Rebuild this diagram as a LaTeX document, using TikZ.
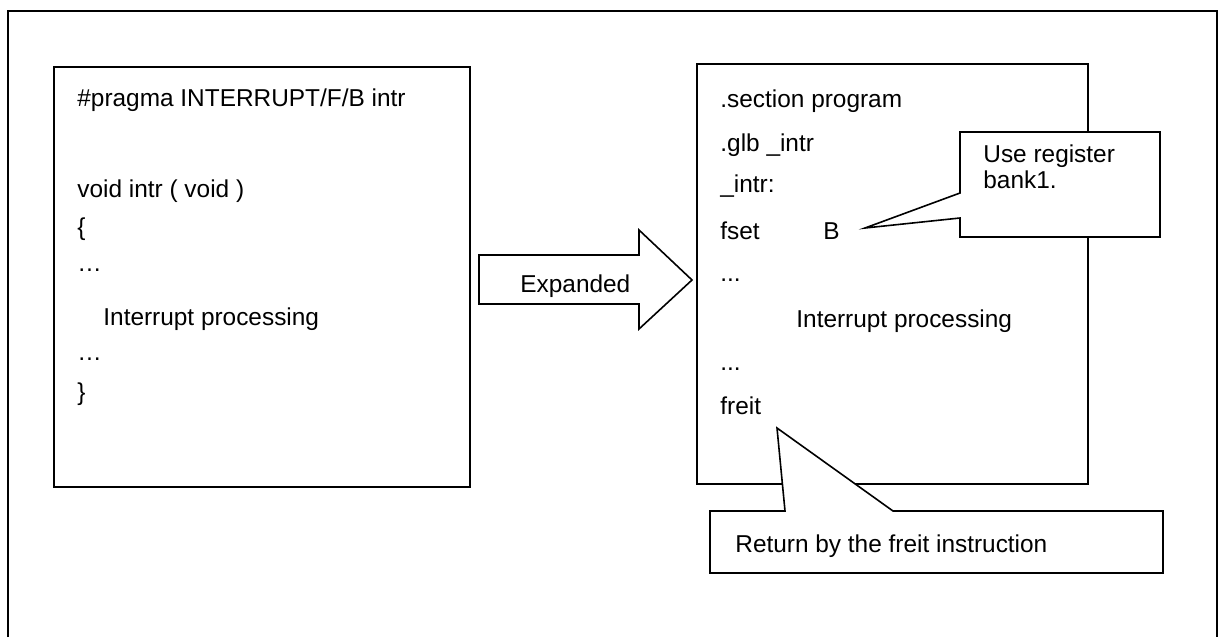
\documentclass[tikz,border=0pt]{standalone}
\usepackage{fontspec}
\setmainfont{Liberation Sans}
\usetikzlibrary{positioning}

\begin{document}
\begin{tikzpicture}[x=0.5pt, y=-0.5pt,
framebox/.style={draw=black, line width=1pt},
codebox/.style={draw=black, line width=1.4pt},
noteshape/.style={draw=black, fill=white, line width=0.8pt, line join=miter},
codeline/.style={anchor=base west, inner sep=0pt, font=\fontsize{12.2}{14.6}\selectfont},
]
\useasboundingbox (0,0) rectangle (1219,637);

%Frames
\draw[framebox] (8,637) -- (8,11) -- (1217,11) -- (1217,637);
\draw[codebox] (54,67) rectangle (470,487);
\draw[codebox] (697,64) rectangle (1088,484);

%Arrow
\draw[noteshape] (479,255) -- (639,255) -- (639,230) -- (692,280) -- (639,329) -- (639,304) -- (479,304) -- cycle;
\node[codeline] (expanded) at (520,292) {Expanded};

%C source
\node[codeline] (pragma)   at (77,106)  {\#pragma INTERRUPT/F/B intr};
\node[codeline] (funchead) at (77,197)  {void intr ( void )};
\node[codeline] (lbrace)   at (77,235)  {\{};
\node[codeline] (dotsa)    at (77,271)  {…};
\node[codeline] (cproc)    at (103,325) {Interrupt processing};
\node[codeline] (dotsb)    at (77,360)  {…};
\node[codeline] (rbrace)   at (77,400)  {\}};

%Assembler
\node[codeline] (section)  at (720,107) {.section program};
\node[codeline] (glb)      at (720,151) {.glb \_intr};
\node[codeline] (label)    at (720,192) {\_intr:};
\node[codeline] (fset)     at (720,239) {fset};
\node[codeline] (fsetarg)  at (823,239) {B};
\node[codeline] (adotsa)   at (720,281) {...};
\node[codeline] (aproc)    at (796,327) {Interrupt processing};
\node[codeline] (adotsb)   at (720,370) {...};
\node[codeline] (freit)    at (720,414) {freit};

%Notes
\coordinate (banktip) at (865,228);
\draw[noteshape] (960,132) -- (1160,132) -- (1160,237) -- (960,237) -- (960,218) -- (banktip) -- (960,193) -- cycle;
\node[codeline] (bankline1) at (983,162) {Use register};
\node[codeline] (bankline2) at (983,188) {bank1.};

\coordinate (freittip) at (777,428);
\draw[noteshape] (710,511) -- (785,511) -- (freittip) -- (893,511) -- (1163,511) -- (1163,573) -- (710,573) -- cycle;
\node[codeline] (freitnote) at (735,552) {Return by the freit instruction};
\end{tikzpicture}
\end{document}
